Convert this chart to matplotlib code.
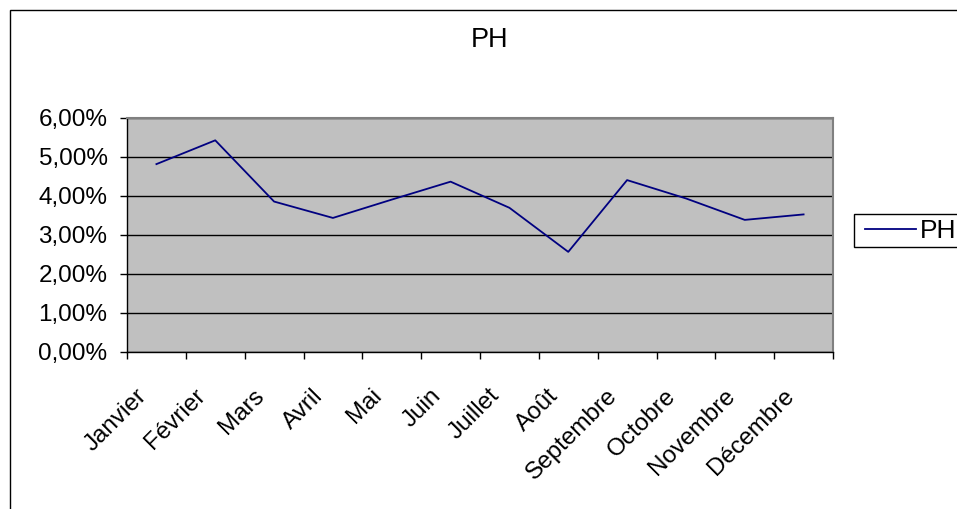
import matplotlib
matplotlib.use("Agg")
import matplotlib.pyplot as plt
import matplotlib.transforms as mtransforms
from matplotlib.patches import Rectangle
from matplotlib.ticker import FixedLocator, FuncFormatter

months = ["Janvier", "Février", "Mars", "Avril", "Mai", "Juin", "Juillet",
          "Août", "Septembre", "Octobre", "Novembre", "Décembre"]
ph_values = [4.81, 5.42, 3.85, 3.43, 3.90, 4.36, 3.69, 2.56, 4.40, 3.93, 3.38, 3.52]
y_ticks = [0, 1, 2, 3, 4, 5, 6]

plt.rcParams['font.family'] = ['Liberation Sans', 'DejaVu Sans']
FS = 17.5
FS_BIG = 19.5

W, H = 957, 509
fig = plt.figure(figsize=(W / 100, H / 100), dpi=100)
fig.patch.set_facecolor('white')

# outer chart border
fig.patches.append(Rectangle((10 / W, -0.1), 2.0, (H - 10) / H + 0.1,
                             transform=fig.transFigure, fill=False,
                             edgecolor='black', linewidth=1.0))

x0, x1 = 127, 833
ytop, ybot = 117.7, 351.7
ax = fig.add_axes([x0 / W, (H - ybot) / H, (x1 - x0) / W, (ybot - ytop) / H])
ax.set_facecolor('#c0c0c0')

xs = list(range(len(months)))
ax.plot(xs, ph_values, color='#000080', linewidth=1.3, label='PH', zorder=3)

ax.set_xlim(-0.5, len(months) - 0.5)
ax.set_ylim(0, 6)

ax.yaxis.set_major_locator(FixedLocator(y_ticks))
ax.yaxis.set_major_formatter(FuncFormatter(lambda v, p: f"{v:.2f}".replace('.', ',') + "%"))
ax.grid(axis='y', color='black', linewidth=1.0, zorder=1)
ax.set_axisbelow(True)

ax.set_xticks(xs)
ax.set_xticklabels([])
ax.set_xticks([i - 0.5 for i in range(len(months) + 1)], minor=True)
ax.tick_params(axis='x', which='major', length=0)
ax.tick_params(axis='x', which='minor', length=5, width=1, color='black', direction='out')
ax.tick_params(axis='y', length=5, width=1, color='black', direction='out', labelsize=FS, pad=9)

# rotated category labels
lab_tr = ax.get_xaxis_transform() + mtransforms.ScaledTranslation(-21 / 100, -33 / 100, fig.dpi_scale_trans)
for x, m in zip(xs, months):
    ax.text(x, 0, m, transform=lab_tr, rotation=45, ha='right', va='top',
            rotation_mode='anchor', fontsize=FS, clip_on=False)

for side in ['top', 'right']:
    ax.spines[side].set_color('#808080')
    ax.spines[side].set_linewidth(1.5)
for side in ['left', 'bottom']:
    ax.spines[side].set_color('black')
    ax.spines[side].set_linewidth(1.0)

fig.text(490 / W, 1 - 40 / H, "PH", ha='center', va='center', fontsize=FS_BIG)

# legend (frame drawn separately so it runs off the right edge like the reference)
fig.patches.append(Rectangle((854 / W, 1 - 247 / H), 200 / W, 33 / H,
                             transform=fig.transFigure, fill=True, facecolor='white',
                             edgecolor='black', linewidth=1.0, zorder=1))
leg = fig.legend(handles=ax.get_lines(), labels=['PH'], loc='center left',
                 bbox_to_anchor=(865 / W, 1 - 231 / H), frameon=False,
                 fontsize=19, handlelength=1.95, handletextpad=0.12,
                 borderpad=0.0, borderaxespad=0)
leg.set_zorder(5)

fig.savefig("out.png", dpi=100)
